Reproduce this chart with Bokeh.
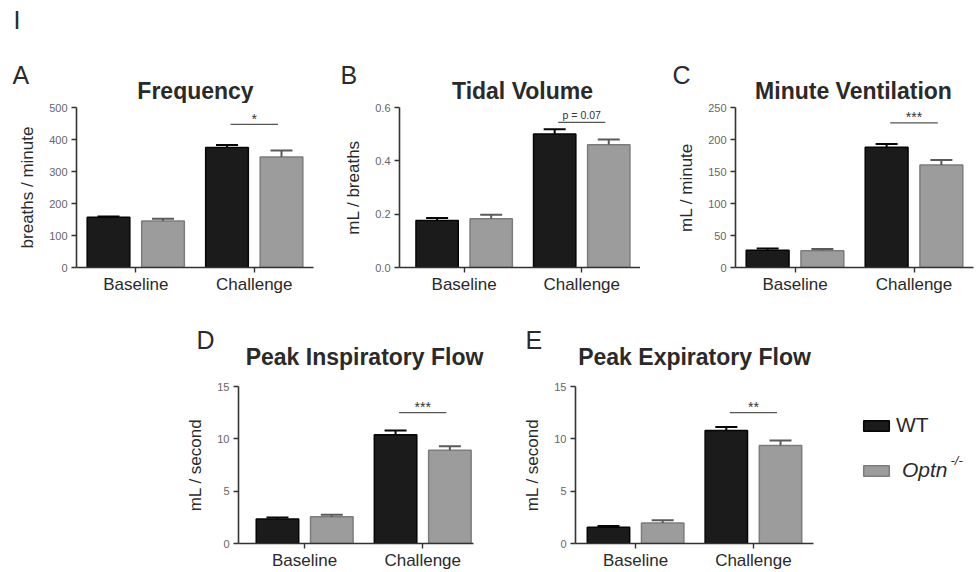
from bokeh.plotting import figure
from bokeh.layouts import row, column, Spacer
from bokeh.models import (Range1d, FixedTicker, Label, Legend, LegendItem,
                          Whisker, TeeHead, ColumnDataSource)
from bokeh.core.properties import value
from bokeh.embed import file_html
from bokeh.resources import INLINE

FONT = "Liberation Sans"

# ---------------- data ----------------
categories = ["Baseline", "Challenge"]
groups = ["WT", "Optn"]

freq_wt = [157, 375]
freq_wt_sem = [2, 8]
freq_ko = [145, 345]
freq_ko_sem = [7, 21]

tv_wt = [0.176, 0.501]
tv_wt_sem = [0.010, 0.017]
tv_ko = [0.183, 0.460]
tv_ko_sem = [0.015, 0.020]

mv_wt = [27, 188]
mv_wt_sem = [2.5, 5]
mv_ko = [26, 160]
mv_ko_sem = [3, 8]

pif_wt = [2.35, 10.4]
pif_wt_sem = [0.13, 0.4]
pif_ko = [2.55, 8.9]
pif_ko_sem = [0.2, 0.4]

pef_wt = [1.55, 10.8]
pef_wt_sem = [0.13, 0.32]
pef_ko = [1.97, 9.37]
pef_ko_sem = [0.25, 0.48]

yticks_freq = [0, 100, 200, 300, 400, 500]
ylabels_freq = ["0", "100", "200", "300", "400", "500"]
yticks_tv = [0, 0.2, 0.4, 0.6]
ylabels_tv = ["0.0", "0.2", "0.4", "0.6"]
yticks_mv = [0, 50, 100, 150, 200, 250]
ylabels_mv = ["0", "50", "100", "150", "200", "250"]
yticks_flow = [0, 5, 10, 15]
ylabels_flow = ["0", "5", "10", "15"]

sig_texts = ["*", "p = 0.07", "***", "***", "**"]
sig_levels = [447, 0.544, 226, 12.5, 12.5]

titles = ["Frequency", "Tidal Volume", "Minute Ventilation",
          "Peak Inspiratory Flow", "Peak Expiratory Flow"]
letters = ["A", "B", "C", "D", "E"]
ylabels_axis = ["breaths / minute", "mL / breaths", "mL / minute",
                "mL / second", "mL / second"]

WT_FILL, WT_LINE = "#1b1b1b", "#050505"
KO_FILL, KO_LINE = "#9c9c9c", "#7c7c7c"
KO_ERR = "#5a5a5a"
TXT = "#2a2a2a"


def make_panel(ylabel, wt, wt_sem, ko, ko_sem, y_end, yticks, ylabels,
               sig_text, sig_y, sig_font, sig_off,
               width, height, bl, br, bt, bb, xr):
    p = figure(width=width, height=height, output_backend="svg",
               toolbar_location=None, x_range=Range1d(*xr),
               y_range=Range1d(0, y_end), min_border_left=bl,
               min_border_right=br, min_border_top=bt, min_border_bottom=bb)
    p.outline_line_color = None
    p.xgrid.visible = False
    p.ygrid.visible = False
    p.background_fill_color = "white"
    p.border_fill_color = "white"

    xc = [i + 1 for i in range(len(categories))]
    off, bw = 0.23, 0.36
    x_wt = [x - off for x in xc]
    x_ko = [x + off for x in xc]

    r_wt = p.vbar(x=x_wt, top=wt, bottom=0, width=bw, fill_color=WT_FILL,
                  line_color=WT_LINE, line_width=1.5)
    r_ko = p.vbar(x=x_ko, top=ko, bottom=0, width=bw, fill_color=KO_FILL,
                  line_color=KO_LINE, line_width=1.5)

    for xs, m, s, col in ((x_wt, wt, wt_sem, WT_LINE), (x_ko, ko, ko_sem, KO_ERR)):
        src = ColumnDataSource(dict(x=xs, lower=m, upper=[a + b for a, b in zip(m, s)]))
        w = Whisker(base="x", lower="lower", upper="upper", source=src,
                    line_color=col, line_width=2, lower_head=None,
                    upper_head=TeeHead(size=22, line_color=col, line_width=2),
                    level="overlay")
        p.add_layout(w)

    # significance bar
    p.segment(x0=[xc[1] - 0.2], x1=[xc[1] + 0.2], y0=[sig_y], y1=[sig_y],
              line_color="#555555", line_width=1.2)
    p.text(x=[xc[1]], y=[sig_y], text=[sig_text], text_align="center",
           text_baseline="middle", y_offset=sig_off,
           text_font=value(FONT), text_font_size=sig_font, text_color="#333333")

    # axes
    xa = p.xaxis[0]
    xa.ticker = FixedTicker(ticks=xc)
    xa.major_label_overrides = {x: c for x, c in zip(xc, categories)}
    ya = p.yaxis[0]
    ya.ticker = FixedTicker(ticks=yticks)
    ya.major_label_overrides = {t: l for t, l in zip(yticks, ylabels)}
    ya.axis_label = ylabel
    ya.axis_label_text_font = FONT
    ya.axis_label_text_font_size = "17px"
    ya.axis_label_text_font_style = "normal"
    ya.axis_label_text_color = TXT
    ya.axis_label_standoff = 9
    for ax in (xa, ya):
        ax.axis_line_color = "#333333"
        ax.axis_line_width = 1.6
        ax.major_tick_line_color = "#333333"
        ax.major_tick_line_width = 1.4
        ax.major_tick_in = 0
        ax.major_tick_out = 5
        ax.minor_tick_line_color = None
        ax.major_label_text_font = FONT
    xa.major_label_text_font_size = "17px"
    xa.major_label_text_color = TXT
    xa.major_label_standoff = 2
    ya.major_label_text_font_size = "11px"
    ya.major_label_text_color = "#666666"
    ya.major_label_standoff = 4
    return p, r_wt, r_ko


def make_header(width, height, items):
    h = figure(width=width, height=height, output_backend="svg",
               toolbar_location=None, x_range=Range1d(0, width),
               y_range=Range1d(0, height), x_axis_type=None, y_axis_type=None,
               min_border=0)
    h.outline_line_color = None
    h.grid.visible = False
    for (txt, x, y, size, style, align) in items:
        h.add_layout(Label(x=x, y=y, text=txt, text_font=FONT,
                           text_font_size=size, text_font_style=style,
                           text_align=align, text_baseline="middle",
                           text_color=TXT))
    return h


TOP_HDR, TOP_H = 103, 195
BOT_HDR, BOT_H = 81, 193

pA, _, _ = make_panel(ylabels_axis[0], freq_wt, freq_wt_sem, freq_ko, freq_ko_sem,
                      500, yticks_freq, ylabels_freq, sig_texts[0], sig_levels[0],
                      "14px", -5.5, 320, TOP_H, 76, 7, 4, 31, (0.5, 2.5))
pB, _, _ = make_panel(ylabels_axis[1], tv_wt, tv_wt_sem, tv_ko, tv_ko_sem,
                      0.6, yticks_tv, ylabels_tv, sig_texts[1], sig_levels[1],
                      "10.5px", -7, 320, TOP_H, 79, 0, 4, 31, (0.45, 2.5))
pC, _, _ = make_panel(ylabels_axis[2], mv_wt, mv_wt_sem, mv_ko, mv_ko_sem,
                      250, yticks_mv, ylabels_mv, sig_texts[2], sig_levels[2],
                      "14px", -5.5, 336, TOP_H, 95, 3, 4, 31, (0.5, 2.5))
pD, _, _ = make_panel(ylabels_axis[3], pif_wt, pif_wt_sem, pif_ko, pif_ko_sem,
                      15, yticks_flow, ylabels_flow, sig_texts[3], sig_levels[3],
                      "14px", -5.5, 330, BOT_H, 68, 27, 7, 29, (0.44, 2.43))
pE, rwt, rko = make_panel(ylabels_axis[4], pef_wt, pef_wt_sem, pef_ko, pef_ko_sem,
                          15, yticks_flow, ylabels_flow, sig_texts[4], sig_levels[4],
                          "14px", -5.5, 320, BOT_H, 75, 7, 7, 29, (0.49, 2.51))

top_header = make_header(976, TOP_HDR, [
    ("I", 13, 84, "25px", "normal", "left"),
    (letters[0], 12, 29, "25px", "normal", "left"),
    (titles[0], 195, 12.5, "23px", "bold", "center"),
    (letters[1], 340, 29, "25px", "normal", "left"),
    (titles[1], 522, 12.5, "23px", "bold", "center"),
    (letters[2], 672, 29, "25px", "normal", "left"),
    (titles[2], 853, 12.5, "23px", "bold", "center"),
])
bot_header = make_header(976, BOT_HDR, [
    (letters[3], 196, 40, "25px", "normal", "left"),
    (titles[3], 364, 23, "23px", "bold", "center"),
    (letters[4], 525, 40, "25px", "normal", "left"),
    (titles[4], 694, 23, "23px", "bold", "center"),
])

# legend panel (hidden copies of the E bars supply the legend swatches)
LW = 156
pL = figure(width=LW, height=BOT_H, output_backend="svg", toolbar_location=None,
            x_range=Range1d(0, LW), y_range=Range1d(0, BOT_H),
            x_axis_type=None, y_axis_type=None, min_border=0)
pL.outline_line_color = None
pL.grid.visible = False
lw_r = pL.vbar(x=[1, 2], top=pef_wt, width=0.36, fill_color=WT_FILL,
               line_color=WT_LINE, line_width=1.5, visible=False)
lk_r = pL.vbar(x=[1, 2], top=pef_ko, width=0.36, fill_color=KO_FILL,
               line_color=KO_LINE, line_width=1.5, visible=False)
leg_common = dict(glyph_width=32, glyph_height=13, padding=0, margin=0,
                  border_line_color=None, background_fill_alpha=0,
                  label_text_font=FONT, label_text_font_size="21px",
                  label_text_color=TXT, spacing=0)
leg1 = Legend(items=[LegendItem(label=groups[0], renderers=[lw_r])],
              location=(40, 106), label_standoff=4, **leg_common)
leg2 = Legend(items=[LegendItem(label=groups[1], renderers=[lk_r])],
              location=(40, 61), label_standoff=10,
              label_text_font_style="italic", **leg_common)
pL.add_layout(leg1)
pL.add_layout(leg2)
pL.add_layout(Label(x=130, y=102, text="-/-", text_font=FONT, text_font_size="13px",
                    text_font_style="italic", text_align="left",
                    text_baseline="middle", text_color=TXT))

layout = column(
    top_header,
    row(pA, pB, pC),
    bot_header,
    row(Spacer(width=170, height=BOT_H), pD, pE, pL),
)

open("out.html", "w").write(file_html(layout, INLINE))
